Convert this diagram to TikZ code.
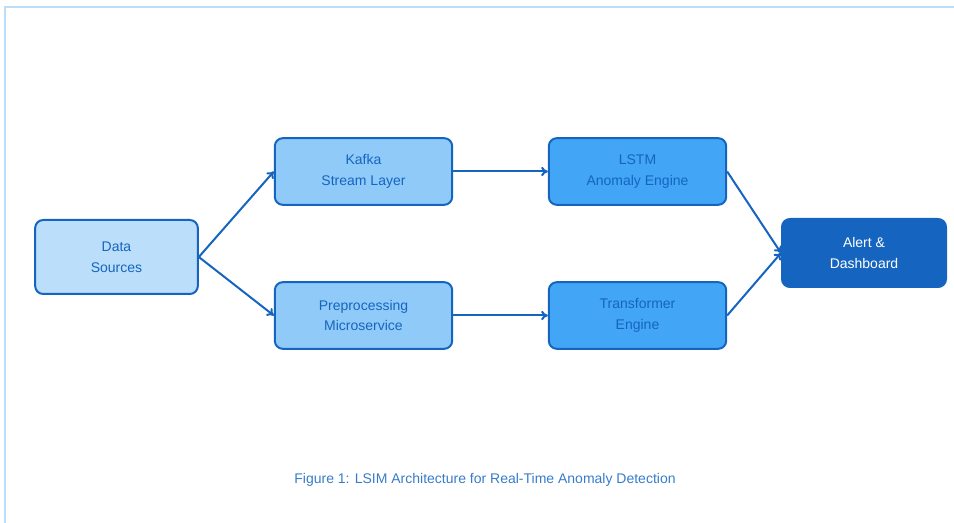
\documentclass[tikz,border=0pt]{standalone}
\usepackage{fontspec}
\setmainfont{Liberation Sans}
\usetikzlibrary{arrows.meta}
\definecolor{frameblue}{HTML}{BBDEFB}
\definecolor{srcblue}{HTML}{BBDEFB}
\definecolor{midblue}{HTML}{90CAF9}
\definecolor{engblue}{HTML}{42A5F5}
\definecolor{darkblue}{HTML}{1565C0}
\begin{document}
\begin{tikzpicture}[
        x=0.75pt, y=-0.75pt,
        font=\fontsize{10.5}{15.5}\selectfont,
        box/.style={draw=darkblue, line width=1.5pt, rounded corners=6pt,
                text=darkblue, align=center, minimum height=50pt}, % Стиль блоков
        flow/.style={draw=darkblue, line width=1.5pt, -{To[length=5pt,width=7pt]}},
    ]

    \useasboundingbox (0,0) rectangle (954,523);
    \draw[frameblue, line width=1.5pt] (5,523) -- (5,7) -- (954,7);

    \node[box, fill=srcblue, minimum width=122pt, minimum height=55.5pt] (src) at (116.5,257) {Data\\Sources};
    \node[box, fill=midblue, minimum width=133pt] (kafka) at (363.5,171.5) {Kafka\\Stream Layer};
    \node[box, fill=midblue, minimum width=133pt] (prep) at (363.5,315.5) {Preprocessing\\Microservice};
    \node[box, fill=engblue, minimum width=133pt] (lstm) at (637.5,171.5) {LSTM\\Anomaly Engine};
    \node[box, fill=engblue, minimum width=133pt] (trans) at (637.5,315.5) {Transformer\\Engine};
    \node[box, fill=darkblue, text=white, minimum width=123pt, minimum height=51pt] (alert) at (864,253) {Alert \&\\Dashboard};

    \draw[flow] (src.east) -- (kafka.west);
    \draw[flow] (src.east) -- (prep.west);
    \draw[flow] (kafka) -- (lstm);
    \draw[flow] (prep) -- (trans);
    \draw[flow] (lstm.east) -- (alert.west);
    \draw[flow] (trans.east) -- (alert.west);

    \node[text=darkblue!85] (caption) at (485,480) {Figure 1: LSIM Architecture for Real-Time Anomaly Detection};

\end{tikzpicture}
\end{document}
